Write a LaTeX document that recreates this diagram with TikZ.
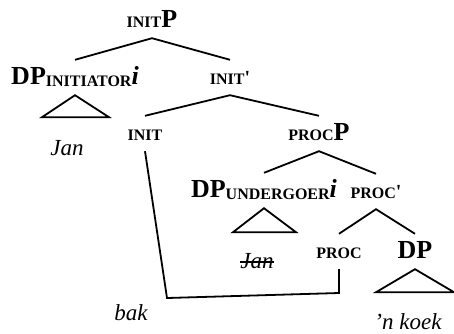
\documentclass[tikz,border=0pt]{standalone}
\usepackage{fontspec}
\setmainfont{Liberation Serif}
\usetikzlibrary{calc,positioning}

% faked small caps
\newcommand{\smc}[1]{{\fontsize{16}{18}\selectfont\bfseries #1}}
\newcommand{\sublab}[1]{\raisebox{-2pt}{\smc{#1}}}
\newcommand{\barmark}{{\fontsize{20}{22}\selectfont\bfseries\textquotesingle}}

\tikzset{
  cat/.style={anchor=base, inner xsep=0pt, inner ysep=10pt, text height=14pt, text depth=1pt,
    font=\fontsize{26}{28}\selectfont\bfseries},
  leaf/.style={anchor=base, inner sep=0pt, font=\fontsize{23}{26}\selectfont\itshape},
  branch/.style={line width=1.8pt},
}

\begin{document}
\begin{tikzpicture}[x=1pt,y=-1pt]
  \useasboundingbox (0,0) rectangle (454,333);
  % categories
  \node[cat] (initP) at (152,27) {\smc{INIT}P};
  \node[cat] (dpinit) at (75,84) {DP\sublab{INITIATOR}\textit{i}};
  \node[cat] (initbar) at (230,84) {\smc{INIT}\barmark};
  \node[cat] (init) at (145,140) {\smc{INIT}};
  \node[cat] (procP) at (319,140) {\smc{PROC}P};
  \node[cat] (dpund) at (264,197) {DP\sublab{UNDERGOER}\textit{i}};
  \node[cat] (procbar) at (376,198) {\smc{PROC}\barmark};
  \node[cat] (proc) at (339,258) {\smc{PROC}};
  \node[cat] (dpobj) at (415,258) {DP};
  % words
  \node[leaf] (jan) at (67,155) {Jan};
  \node[leaf] (jancopy) at (257,268) {Jan};
  \node[leaf] (bak) at (131,320) {bak};
  \node[leaf] (koek) at (408,329) {’n koek};

  \draw[branch] (dpinit.north) -- (initP.south) -- (initbar.north);
  \draw[branch] (init.north) -- (initbar.south) -- (procP.north);
  \draw[branch] (dpund.north) -- (procP.south) -- (procbar.north);
  \draw[branch] (proc.north) -- (procbar.south) -- (dpobj.north);

  % roofs
  \draw[branch] (dpinit.south) -- ++(-33,22) -- ++(67,0) -- cycle;
  \draw[branch] (dpund.south) -- ++(-31,24) -- ++(63,0) -- cycle;
  \draw[branch] (dpobj.south) -- ++(-39,23) -- ++(78,0) -- cycle;

  % struck-out copy
  \draw[line width=1.2pt] ([yshift=6pt]jancopy.base west) -- ([yshift=6pt]jancopy.base east);

  % head movement
  \coordinate (bendA) at (167,298);
  \coordinate (bendB) at (339,293);
  \draw[branch] (init.south) -- (bendA) -- (bendB) -- (proc.south);
\end{tikzpicture}
\end{document}
